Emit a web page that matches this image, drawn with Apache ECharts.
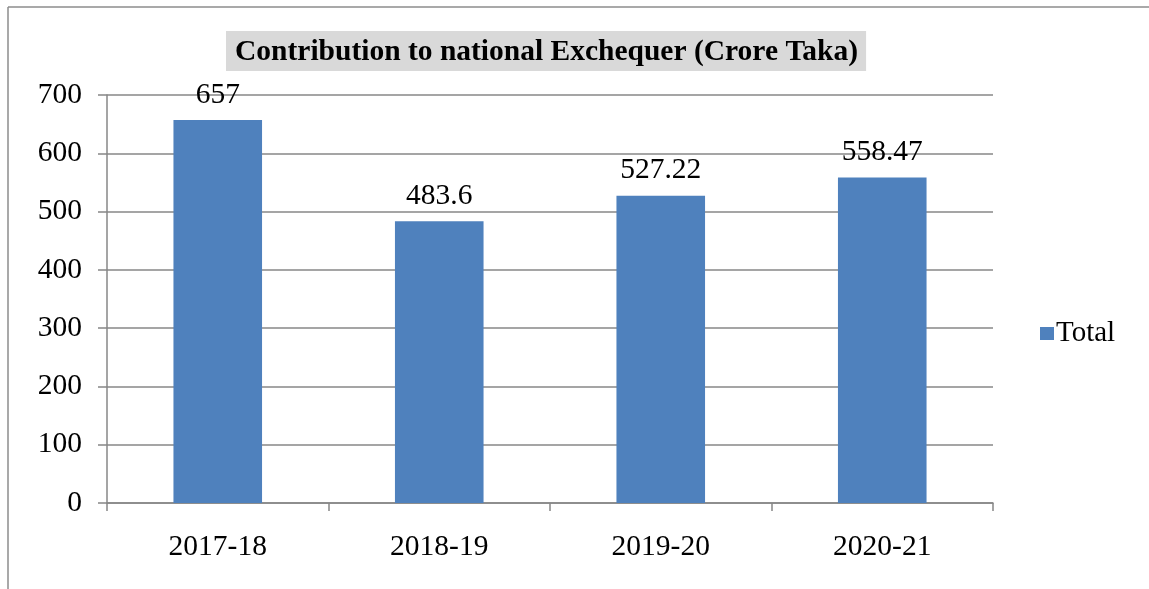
<!DOCTYPE html>
<html lang="en">
<head>
    <meta charset="UTF-8">
    <title>Contribution to national Exchequer</title>
    <script type="text/javascript" src="https://cdn.jsdelivr.net/npm/echarts@6/dist/echarts.min.js"></script>
    <style>
        html, body { margin: 0; padding: 0; background: #fff; }
        #container { width: 1149px; height: 589px; }
    </style>
</head>
<body>
<div id="container"></div>
<script>
    var categories = ['2017-18', '2018-19', '2019-20', '2020-21'];
    var totalValues = [657, 483.6, 527.22, 558.47];
    var seriesName = 'Total';
    var titleText = 'Contribution to national Exchequer (Crore Taka)';

    var serif = "'Liberation Serif', 'Times New Roman', serif";
    var gray = '#878787';

    var myChart = echarts.init(document.getElementById('container'));
    var option = {
        backgroundColor: '#fff',
        animation: false,
        title: {
            text: titleText,
            left: 226,
            top: 31,
            padding: [6, 8, 4, 9],
            backgroundColor: '#d9d9d9',
            textStyle: {
                fontFamily: serif,
                fontWeight: 'bold',
                fontSize: 29.5,
                color: '#000'
            }
        },
        legend: {
            data: [seriesName],
            left: 1035,
            top: 314,
            icon: 'rect',
            itemWidth: 14,
            itemHeight: 13,
            itemGap: 6,
            textStyle: { fontFamily: serif, fontSize: 29, color: '#000', padding: [0, 0, 0, -3] }
        },
        grid: { left: 107, right: 156, top: 95, bottom: 86 },
        xAxis: {
            type: 'category',
            data: categories,
            axisLine: { lineStyle: { color: gray, width: 1.5 } },
            axisTick: { show: true, length: 8, lineStyle: { color: gray, width: 1.5 } },
            axisLabel: { margin: 29, fontFamily: serif, fontSize: 29.5, color: '#000' }
        },
        yAxis: {
            type: 'value',
            min: 0,
            max: 700,
            interval: 100,
            axisLine: { show: true, lineStyle: { color: gray, width: 1.5 } },
            axisTick: { show: true, length: 9, lineStyle: { color: gray, width: 1.5 } },
            axisLabel: { margin: 25, fontFamily: serif, fontSize: 29.5, color: '#000' },
            splitLine: { lineStyle: { color: gray, width: 1.5 } }
        },
        graphic: [
            { type: 'line', shape: { x1: 8, y1: 7, x2: 8, y2: 589 }, style: { stroke: '#8c8c8c', lineWidth: 1.5 } },
            { type: 'line', shape: { x1: 8, y1: 7, x2: 1149, y2: 7 }, style: { stroke: '#8c8c8c', lineWidth: 1.5 } }
        ],
        series: [{
            name: seriesName,
            type: 'bar',
            data: totalValues,
            barWidth: '40%',
            itemStyle: { color: '#4f81bd' },
            label: {
                show: true,
                position: 'top',
                distance: 10,
                fontFamily: serif,
                fontSize: 29.5,
                color: '#000'
            }
        }]
    };
    myChart.setOption(option);
</script>
</body>
</html>
